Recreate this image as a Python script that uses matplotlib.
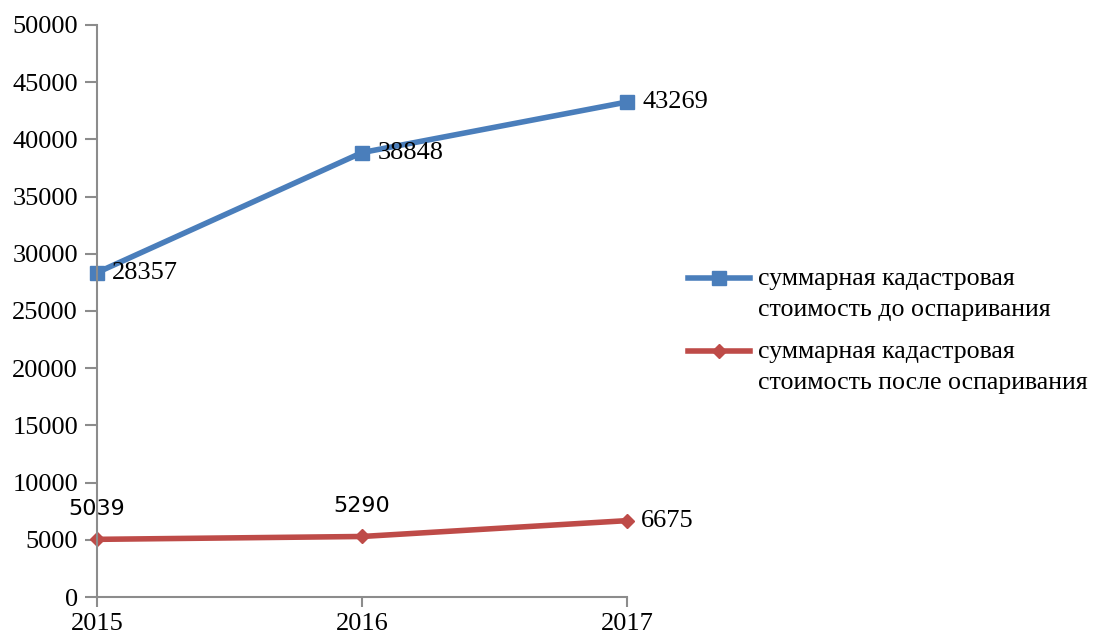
import matplotlib.pyplot as plt
from matplotlib.legend_handler import HandlerLine2D

years = ['2015', '2016', '2017']
before = [28357, 38848, 43269]
after = [5039, 5290, 6675]
label_before = 'суммарная кадастровая\nстоимость до оспаривания'
label_after = 'суммарная кадастровая\nстоимость после оспаривания'

plt.rcParams['font.family'] = ['Liberation Serif', 'DejaVu Serif']


# legend marker sits on the first line of a two-line label
class FirstLineHandler(HandlerLine2D):
    def create_artists(self, legend, orig_handle, xdescent, ydescent,
                       width, height, fontsize, trans):
        return super().create_artists(legend, orig_handle, xdescent, ydescent - 23,
                                      width, height, fontsize, trans)


fig = plt.figure(figsize=(10.97, 6.39), dpi=100)
ax = fig.add_axes([97 / 1097, 42 / 639, 530 / 1097, 572 / 639])

x = list(range(len(years)))
l1, = ax.plot(x, before, color='#4A7EBB', lw=4, marker='s', ms=10, label=label_before)
l2, = ax.plot(x, after, color='#BE4B48', lw=4, marker='D', ms=7.5, label=label_after)

# data labels
for xi, v in zip(x, before):
    ax.annotate(str(v), (xi, v), xytext=(11, 0), textcoords='offset points',
                ha='left', va='center', fontsize=19)
for xi, v in zip(x[:2], after[:2]):
    ax.annotate(str(v), (xi, v), xytext=(0, 15), textcoords='offset points',
                ha='center', va='bottom', fontsize=16, family='DejaVu Sans')
ax.annotate(str(after[2]), (x[2], after[2]), xytext=(10, 0), textcoords='offset points',
            ha='left', va='center', fontsize=19)

ax.set_xlim(0, 2)
ax.set_ylim(0, 50000)
ax.set_xticks(x)
ax.set_xticklabels(years)
ax.set_yticks(range(0, 50001, 5000))

for s in ['top', 'right']:
    ax.spines[s].set_visible(False)
for s in ['left', 'bottom']:
    ax.spines[s].set_color('#8C8C8C')
    ax.spines[s].set_linewidth(1.5)
ax.tick_params(axis='both', colors='#8C8C8C', width=1.5, labelcolor='black', labelsize=19)
ax.tick_params(axis='y', length=8.6, pad=5)
ax.tick_params(axis='x', length=7.2, pad=4)
for ln in ax.lines:
    ln.set_clip_on(False)

leg = fig.legend(loc='center left', bbox_to_anchor=(688 / 1097, 1 - 331 / 639),
                 frameon=False, fontsize=18.6, handlelength=2.4, handletextpad=0.3,
                 labelspacing=0.78, borderaxespad=0, borderpad=0,
                 handler_map={l1: FirstLineHandler(), l2: FirstLineHandler()})
for t in leg.get_texts():
    t.set_linespacing(1.55)

fig.savefig('out.png', dpi=100)
